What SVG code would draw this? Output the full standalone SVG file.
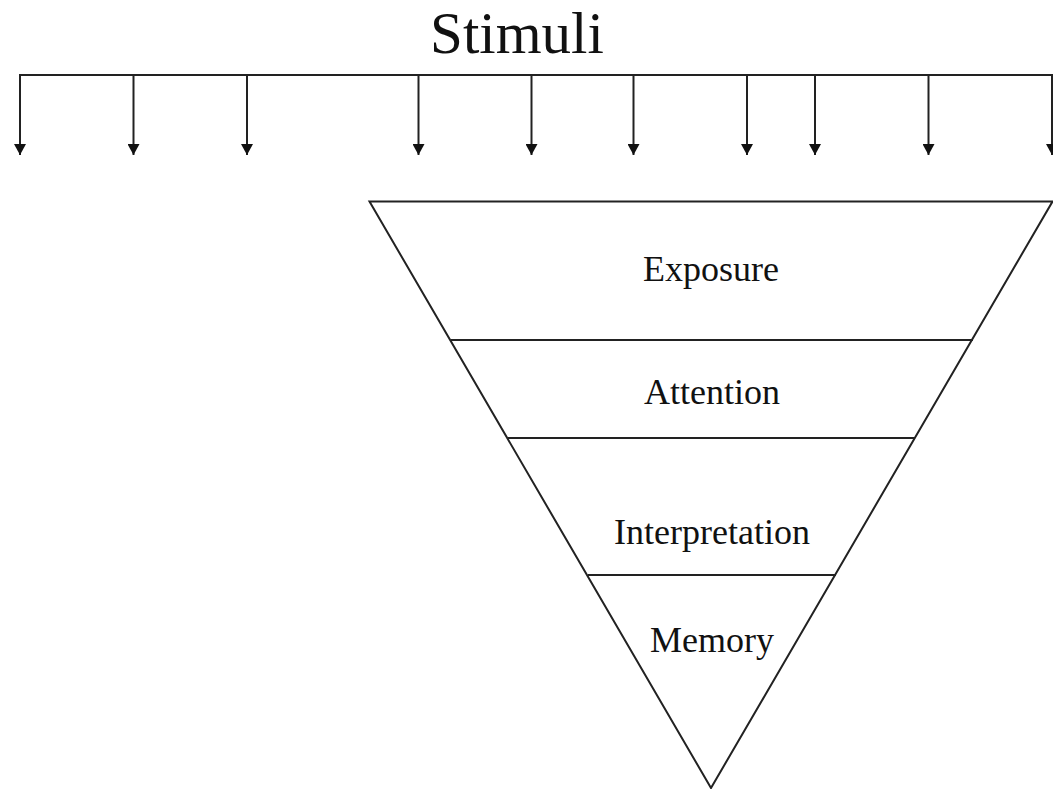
<svg xmlns="http://www.w3.org/2000/svg" width="1053" height="789" viewBox="0 0 1053 789">
<style>
.ln{stroke:#222;stroke-width:2;fill:none}
.tri{stroke:#222;stroke-width:2;fill:#fff}
.lbl{font-family:"Liberation Serif",serif;font-size:36px;fill:#111;text-anchor:middle}
.title{font-family:"Liberation Serif",serif;font-size:59px;fill:#111;text-anchor:middle}
</style>
<defs>
<marker id="ad" markerUnits="userSpaceOnUse" markerWidth="12" markerHeight="11" refX="6" refY="11" viewBox="0 0 12 11" orient="0">
<path d="M0,0 L12,0 L6,11 Z" fill="#111"/>
</marker>
</defs>
<rect width="1053" height="789" fill="#fff"/>
<g id="title"><text class="title" x="517" y="53">Stimuli</text></g>
<g id="connectors">
<line class="ln" x1="19" y1="75" x2="1053" y2="75"/>
<g marker-end="url(#ad)">
<line class="ln" x1="20" y1="75" x2="20" y2="155"/>
<line class="ln" x1="133.5" y1="75" x2="133.5" y2="155"/>
<line class="ln" x1="247" y1="75" x2="247" y2="155"/>
<line class="ln" x1="418.5" y1="75" x2="418.5" y2="155"/>
<line class="ln" x1="531.5" y1="75" x2="531.5" y2="155"/>
<line class="ln" x1="633.5" y1="75" x2="633.5" y2="155"/>
<line class="ln" x1="747" y1="75" x2="747" y2="155"/>
<line class="ln" x1="815" y1="75" x2="815" y2="155"/>
<line class="ln" x1="928.5" y1="75" x2="928.5" y2="155"/>
<line class="ln" x1="1052" y1="75" x2="1052" y2="155"/>
</g>
</g>
<g id="funnel">
<polygon class="tri" points="369.5,201.5 1052.5,201.5 711,788"/>
<line class="ln" x1="451" y1="340" x2="973" y2="340"/>
<line class="ln" x1="508" y1="438" x2="915" y2="438"/>
<line class="ln" x1="588" y1="575" x2="836" y2="575"/>
</g>
<g id="exposure"><text class="lbl" x="711" y="281">Exposure</text></g>
<g id="attention"><text class="lbl" x="712" y="404">Attention</text></g>
<g id="interpretation"><text class="lbl" x="712" y="544">Interpretation</text></g>
<g id="memory"><text class="lbl" x="712" y="652">Memory</text></g>
</svg>
